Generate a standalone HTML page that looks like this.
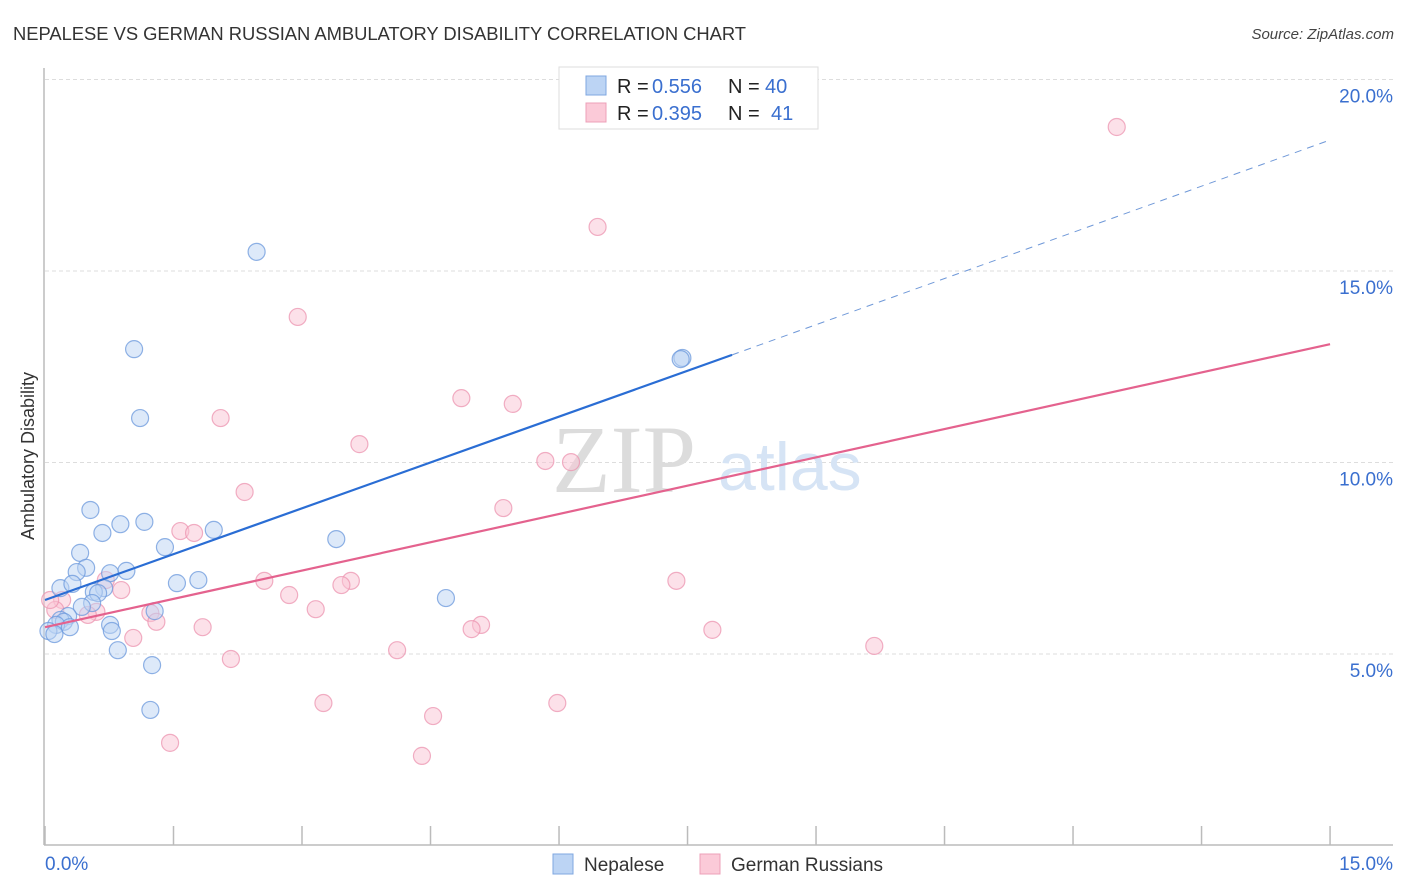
<!DOCTYPE html>
<html><head><meta charset="utf-8"><style>
body{margin:0;background:#fff;font-family:"Liberation Sans",sans-serif;}
svg{display:block}
</style></head><body>
<svg id="chart" width="1406" height="892" viewBox="0 0 1406 892" xmlns="http://www.w3.org/2000/svg">
<text x="13" y="40" font-size="18.4" fill="#333" textLength="733">NEPALESE VS GERMAN RUSSIAN AMBULATORY DISABILITY CORRELATION CHART</text>
<text x="1394" y="39" font-size="15" fill="#444" font-style="italic" text-anchor="end">Source: ZipAtlas.com</text>
<g id="grid"></g>
<text x="552" y="492" font-size="96" fill="#dcdcdc" font-family="Liberation Serif,serif">ZIP</text>
<text x="718" y="490" font-size="68" fill="#d6e4f5">atlas</text>
<g id="axes"></g>
<g id="pts"></g>
<g id="lines"></g>
<text transform="translate(34,456) rotate(-90)" font-size="18" fill="#333" text-anchor="middle">Ambulatory Disability</text>
<g>
<rect x="559" y="67" width="259" height="62" fill="#fff" stroke="#ddd"/>
<rect x="586" y="76" width="20" height="19" fill="#bcd4f4" stroke="#7fa7e0"/>
<rect x="586" y="103" width="20" height="19" fill="#fbcad8" stroke="#eda0b8"/>
<text x="617" y="93" font-size="20" fill="#222">R =</text>
<text x="652" y="93" font-size="20" fill="#3a6fcf">0.556</text>
<text x="728" y="93" font-size="20" fill="#222">N =</text>
<text x="765" y="93" font-size="20" fill="#3a6fcf">40</text>
<text x="617" y="120" font-size="20" fill="#222">R =</text>
<text x="652" y="120" font-size="20" fill="#3a6fcf">0.395</text>
<text x="728" y="120" font-size="20" fill="#222">N =</text>
<text x="771" y="120" font-size="20" fill="#3a6fcf">41</text>
</g>
<g>
<rect x="553" y="854" width="20" height="20" fill="#bcd4f4" stroke="#7fa7e0"/>
<text x="584" y="871" font-size="19" fill="#333">Nepalese</text>
<rect x="700" y="854" width="20" height="20" fill="#fbcad8" stroke="#eda0b8"/>
<text x="731" y="871" font-size="19" fill="#333">German Russians</text>
</g>
</svg>
<script>
const xTicks=[0,1.5,3,4.5,6,7.5,9,10.5,12,13.5,15];
const yTicks=[5,10,15,20];
const yTickLabels=["5.0%","10.0%","15.0%","20.0%"];
const nepaleseX=[2.47,1.04,1.11,7.44,7.42,0.53,0.88,1.16,0.67,1.97,3.40,1.40,0.41,0.48,0.37,0.95,0.76,1.79,1.54,0.18,0.32,0.69,0.57,0.62,0.55,0.43,4.68,1.28,0.27,0.18,0.22,0.13,0.29,0.76,0.78,0.04,0.11,0.85,1.25,1.23];
const nepaleseY=[15.50,12.96,11.16,12.73,12.70,8.76,8.39,8.45,8.16,8.24,8.00,7.79,7.64,7.25,7.14,7.17,7.11,6.93,6.85,6.72,6.83,6.72,6.62,6.59,6.33,6.23,6.46,6.12,5.99,5.89,5.84,5.76,5.70,5.76,5.60,5.60,5.52,5.10,4.71,3.54];
const germanX=[12.51,6.45,2.95,2.05,4.86,5.46,3.67,6.14,5.84,2.33,5.35,1.58,1.74,2.56,3.57,3.46,7.37,2.85,0.71,0.89,0.20,0.12,0.06,3.16,1.23,0.60,0.50,1.30,1.84,5.09,4.98,7.79,1.03,9.68,4.11,2.17,3.25,5.98,4.53,1.46,4.40];
const germanY=[18.76,16.15,13.80,11.16,11.68,11.53,10.48,10.01,10.04,9.23,8.81,8.21,8.16,6.91,6.91,6.80,6.91,6.54,6.93,6.67,6.41,6.15,6.41,6.17,6.07,6.10,6.02,5.84,5.70,5.76,5.65,5.63,5.42,5.21,5.10,4.87,3.72,3.72,3.38,2.68,2.34];
const nepaleseTrend=[[0,6.41],[8.02,12.81]];
const nepaleseTrendExt=[[8.02,12.81],[15,18.42]];
const germanTrend=[[0,5.70],[15,13.09]];

const NS="http://www.w3.org/2000/svg";
const X=v=>45+v*85.67, Y=v=>654-(v-5)*38.3;
function mk(tag,attrs,parent){const e=document.createElementNS(NS,tag);for(const k in attrs)e.setAttribute(k,attrs[k]);parent.appendChild(e);return e;}
const grid=document.getElementById('grid'),axes=document.getElementById('axes'),pts=document.getElementById('pts'),lines=document.getElementById('lines');
yTicks.forEach((t,i)=>{
  const l=mk('line',{x1:45,x2:1393,y1:Y(t),y2:Y(t),stroke:'#ddd','stroke-dasharray':'4,3'},grid);
  
  
  const tx=mk('text',{x:1393,y:Y(t)+23,'font-size':19,fill:'#3a6fcf','text-anchor':'end'},axes);
  tx.textContent=yTickLabels[i];
  
  
});
const ya=mk('line',{x1:44,x2:44,y1:68,y2:845,stroke:'#bbb','stroke-width':1.5},axes);


const xa=mk('line',{x1:44,x2:1393,y1:845,y2:845,stroke:'#bbb','stroke-width':1.5},axes);


xTicks.forEach(t=>{
  const l=mk('line',{x1:X(t),x2:X(t),y1:826,y2:845,stroke:'#bbb','stroke-width':1.5},axes);
  
  
});
[[0,'0.0%','start',45],[15,'15.0%','end',1393]].forEach(a=>{
  const tx=mk('text',{x:a[3],y:870,'font-size':19,fill:'#3a6fcf','text-anchor':a[2]},axes);
  tx.textContent=a[1];
  
  
});
function dots(xs,ys,fill,stroke,name){xs.forEach((x,i)=>{
  const c=mk('circle',{cx:X(x),cy:Y(ys[i]),r:8.5,fill:fill,'fill-opacity':0.5,stroke:stroke,'stroke-opacity':0.75,'stroke-width':1.2},pts);
  
  
});}
dots(germanX,germanY,'#f9c4d4','#ec94b0','german-russian-point');
dots(nepaleseX,nepaleseY,'#bcd4f4','#6b98dc','nepalese-point');
function ln(p,stroke,w,dash,name){
  const a={x1:X(p[0][0]),y1:Y(p[0][1]),x2:X(p[1][0]),y2:Y(p[1][1]),stroke:stroke,'stroke-width':w};
  if(dash)a['stroke-dasharray']=dash;
  const l=mk('line',a,lines);
  
  
}
ln(germanTrend,'#e4628e',2.2,null,'german-russian-trend-line');
ln(nepaleseTrend,'#2a6dd4',2.2,null,'nepalese-trend-line');
ln(nepaleseTrendExt,'#6f98d8',1,'7,6','nepalese-trend-extension');
</script>
</body></html>
